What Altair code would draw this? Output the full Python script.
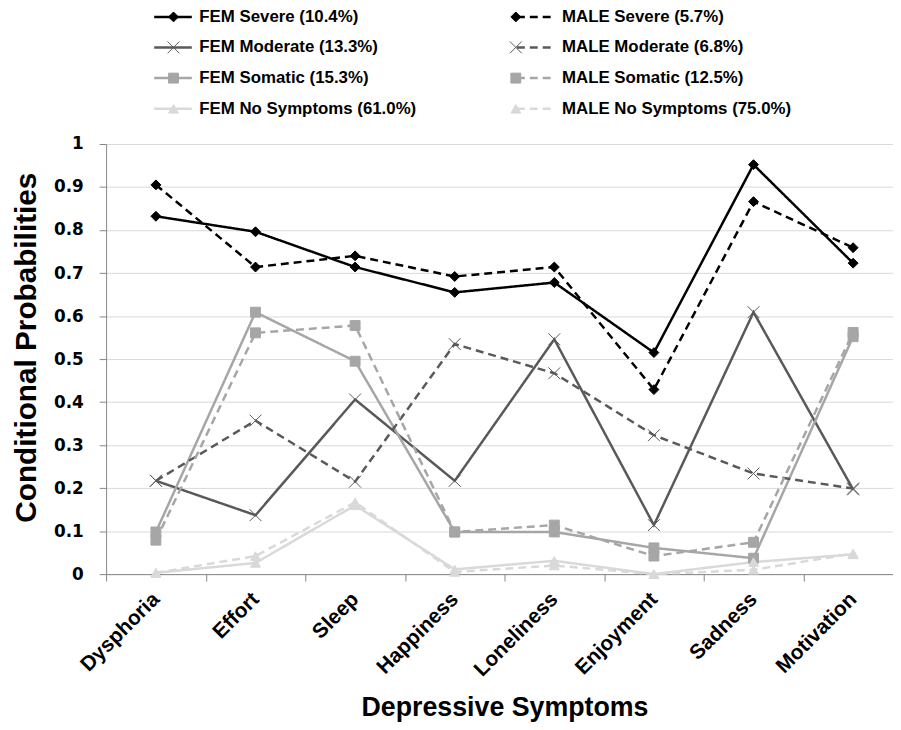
import altair as alt
import pandas as pd

symptoms = ["Dysphoria", "Effort", "Sleep", "Happiness", "Loneliness",
            "Enjoyment", "Sadness", "Motivation"]

series_labels = [
    "FEM Severe (10.4%)", "FEM Moderate (13.3%)",
    "FEM Somatic (15.3%)", "FEM No Symptoms (61.0%)",
    "MALE Severe (5.7%)", "MALE Moderate (6.8%)",
    "MALE Somatic (12.5%)", "MALE No Symptoms (75.0%)",
]

fem_severe = [0.832, 0.796, 0.714, 0.655, 0.678, 0.515, 0.952, 0.723]
fem_moderate = [0.217, 0.137, 0.406, 0.217, 0.546, 0.114, 0.609, 0.197]
fem_somatic = [0.098, 0.609, 0.495, 0.098, 0.098, 0.061, 0.037, 0.552]
fem_none = [0.003, 0.026, 0.160, 0.011, 0.031, 0.000, 0.028, 0.046]
male_severe = [0.905, 0.714, 0.740, 0.692, 0.714, 0.429, 0.866, 0.759]
male_moderate = [0.217, 0.357, 0.215, 0.535, 0.467, 0.323, 0.234, 0.199]
male_somatic = [0.079, 0.561, 0.578, 0.098, 0.114, 0.042, 0.074, 0.562]
male_none = [0.003, 0.042, 0.167, 0.005, 0.020, 0.000, 0.010, 0.048]

series_values = [fem_severe, fem_moderate, fem_somatic, fem_none,
                 male_severe, male_moderate, male_somatic, male_none]

line_colors = ["#000000", "#595959", "#a6a6a6", "#d9d9d9",
               "#000000", "#595959", "#a6a6a6", "#d9d9d9"]
dashes = [[1, 0], [1, 0], [1, 0], [1, 0], [8, 5], [8, 5], [8, 5], [8, 5]]
x_path = "M-1.2,-1.2L1.2,1.2M-1.2,1.2L1.2,-1.2"
shapes = ["diamond", x_path, "square", "triangle-up",
          "diamond", x_path, "square", "triangle-up"]

rows = []
for lab, vals in zip(series_labels, series_values):
    for s, v in zip(symptoms, vals):
        rows.append({"series": lab, "series_mk": lab, "symptom": s, "prob": v})
df = pd.DataFrame(rows)

LBL_FONT = "Liberation Sans"

x_enc = alt.X(
    "symptom:N", sort=symptoms,
    scale=alt.Scale(type="band", paddingInner=0, paddingOuter=0, range=[0, 804]),
    axis=alt.Axis(
        title="Depressive Symptoms", labelAngle=-45, labelAlign="right",
        labelBaseline="middle", labelFont=LBL_FONT, labelFontWeight="bold",
        labelFontSize=21, labelColor="#000000", labelPadding=15,
        tickBand="extent", tickSize=7, tickColor="#868686",
        domainColor="#868686", grid=False,
        titleFont=LBL_FONT, titleFontWeight="bold", titleFontSize=27,
        titleColor="#000000", titleBaseline="alphabetic", titleY=143,
    ),
)
y_enc = alt.Y(
    "prob:Q", scale=alt.Scale(domain=[0, 1], nice=False),
    axis=alt.Axis(
        title="Conditional Probabilities",
        values=[0, 0.1, 0.2, 0.3, 0.4, 0.5, 0.6, 0.7, 0.8, 0.9, 1],
        format="~g", labelFont="DejaVu Sans", labelFontWeight="bold",
        labelFontSize=17, labelColor="#000000", labelPadding=16,
        tickSize=7, tickColor="#868686", domainColor="#868686",
        gridColor="#d9d9d9", gridWidth=1,
        titleFont=LBL_FONT, titleFontWeight="bold", titleFontSize=30,
        titleColor="#000000", titleBaseline="alphabetic", titleX=-71, titleY=205,
        titleAngle=270,
    ),
)

legend_a = alt.Legend(
    title=None, orient="none", legendX=59, legendY=-137, columns=2,
    symbolType="M-4,0H4", symbolSize=90, symbolStrokeWidth=2.5,
    labelFont=LBL_FONT, labelFontWeight="bold", labelFontSize=17,
    labelColor="#000000", labelOffset=18, rowPadding=13, columnPadding=95,
    padding=0, labelLimit=400,
)
# marker-only legend drawn over the line legend (its labels are blank)
legend_b = alt.Legend(
    title=None, orient="none", legendX=59.5, legendY=-137, columns=2,
    symbolSize=100, symbolStrokeWidth=1, symbolOpacity=1,
    labelFont=LBL_FONT, labelFontWeight="bold", labelFontSize=17,
    labelExpr="' '", labelOffset=19, rowPadding=13, columnPadding=309.4,
    padding=0, labelLimit=400,
)

lines = alt.Chart(df).mark_line(strokeWidth=2.5).encode(
    x=x_enc, y=y_enc,
    color=alt.Color("series:N", sort=series_labels,
                    scale=alt.Scale(domain=series_labels, range=line_colors),
                    legend=legend_a),
    strokeDash=alt.StrokeDash("series:N", sort=series_labels,
                              scale=alt.Scale(domain=series_labels, range=dashes),
                              legend=legend_a),
)

points = alt.Chart(df).mark_point(size=100, strokeWidth=1, opacity=1).encode(
    x=x_enc, y=y_enc,
    shape=alt.Shape("series_mk:N",
                    scale=alt.Scale(domain=series_labels, range=shapes),
                    legend=legend_b),
    fill=alt.Fill("series_mk:N",
                  scale=alt.Scale(domain=series_labels, range=line_colors),
                  legend=legend_b),
    stroke=alt.Stroke("series_mk:N",
                      scale=alt.Scale(domain=series_labels, range=line_colors),
                      legend=legend_b),
)

chart = alt.layer(lines, points).resolve_scale(
    color="independent", strokeDash="independent", shape="independent",
    fill="independent", stroke="independent"
).properties(
    width=794, height=434,
    autosize=alt.AutoSizeParams(type="none"),
    padding={"left": 99, "top": 134, "right": 0, "bottom": 150},
    background="#ffffff",
).configure_view(stroke=None)

chart.save("out.html", embed_options={"renderer": "svg", "actions": False})
